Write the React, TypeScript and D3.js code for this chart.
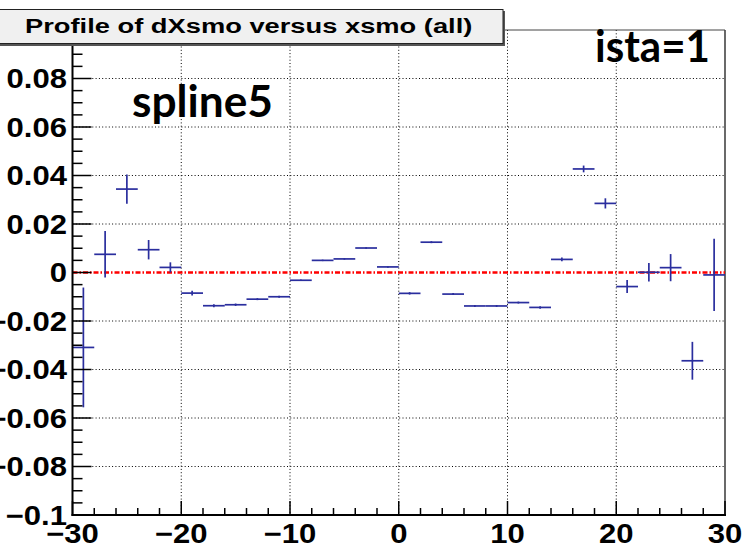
import React from "react";
import * as d3 from "d3";

const binCenters = [-29, -27, -25, -23, -21, -19, -17, -15, -13, -11, -9, -7, -5, -3, -1, 1, 3, 5, 7, 9, 11, 13, 15, 17, 19, 21, 23, 25, 27, 29];
const means = [-0.0309, 0.0075, 0.0344, 0.0094, 0.0021, -0.0085, -0.0137, -0.0133, -0.011, -0.01, -0.0032, 0.005, 0.0056, 0.0101, 0.0023, -0.0086, 0.0125, -0.0089, -0.0138, -0.0138, -0.0124, -0.0144, 0.0054, 0.0427, 0.0285, -0.0058, 0.0001, 0.002, -0.0364, -0.001];
const errors = [0.0247, 0.0096, 0.006, 0.004, 0.0021, 0.001, 0.0006, 0.0005, 0.0004, 0.0004, 0.0003, 0.0003, 0.0003, 0.0003, 0.0003, 0.0005, 0.0004, 0.0004, 0.0004, 0.0004, 0.0004, 0.0005, 0.0008, 0.0014, 0.0021, 0.0027, 0.0038, 0.0056, 0.0078, 0.0149];
const binHalfWidth = 1;
const xTicks = [-30, -20, -10, 0, 10, 20, 30];
const xMinorTicks = [-28, -26, -24, -22, -18, -16, -14, -12, -8, -6, -4, -2, 2, 4, 6, 8, 12, 14, 16, 18, 22, 24, 26, 28];
const yTicks = [-0.1, -0.08, -0.06, -0.04, -0.02, 0, 0.02, 0.04, 0.06, 0.08, 0.1];
const yLabelTicks = [-0.1, -0.08, -0.06, -0.04, -0.02, 0, 0.02, 0.04, 0.06, 0.08];
const yTickLabels = ["\u22120.1", "\u22120.08", "\u22120.06", "\u22120.04", "\u22120.02", "0", "0.02", "0.04", "0.06", "0.08"];
const yMinorStep = 0.005;
const xGrid = [-20, -10, 0, 10, 20];
const yGrid = [-0.08, -0.06, -0.04, -0.02, 0.02, 0.04, 0.06, 0.08];
const title = "Profile of dXsmo versus xsmo (all)";
const label1 = "spline5";
const label2 = "ista=1";

export default function App() {
  const W = 743, H = 549;
  const left = 72.5, right = 725, top = 30, bottom = 515;
  const x = d3.scaleLinear().domain([-30, 30]).range([left, right]);
  const y = d3.scaleLinear().domain([-0.1, 0.1]).range([bottom, top]);
  const yMinor = d3.range(-0.1, 0.1001, yMinorStep).filter((v) => Math.abs(Math.round(v / 0.02) * 0.02 - v) > 1e-6);
  const font = "'Liberation Sans', Arial, Helvetica, sans-serif";
  const sx = 1.3;
  const lsx = 1.15;
  const lfs = 27;
  const errColor = "#2a2e9e";

  return (
    <svg width={W} height={H} style={{ position: "absolute", left: 0, top: 0, background: "#fff" }}>
      <rect x={0} y={0} width={W} height={H} fill="#fff" />
      {/* grid */}
      {xGrid.map((v) => (
        <line key={"gx" + v} x1={x(v)} x2={x(v)} y1={top} y2={bottom} stroke="#000" strokeWidth={1} strokeDasharray="1 2.3" />
      ))}
      {yGrid.map((v) => (
        <line key={"gy" + v} x1={left} x2={right} y1={y(v)} y2={y(v)} stroke="#000" strokeWidth={1} strokeDasharray="1 2.3" />
      ))}
      {/* frame */}
      <line x1={left} x2={right} y1={top} y2={top} stroke="#444" strokeWidth={1} />
      <line x1={right} x2={right} y1={top} y2={bottom} stroke="#444" strokeWidth={1.6} />
      {/* zero line */}
      <line x1={left} x2={right} y1={y(0)} y2={y(0)} stroke="#ff0000" strokeWidth={2.4} strokeDasharray="5 2 1.5 2" />
      {/* error bars */}
      {binCenters.map((c, i) => (
        <g key={"p" + i} stroke={errColor} strokeWidth={1.7}>
          <line x1={x(c - binHalfWidth)} x2={x(c + binHalfWidth)} y1={y(means[i])} y2={y(means[i])} />
          <line x1={x(c)} x2={x(c)} y1={y(means[i] + errors[i])} y2={y(means[i] - errors[i])} />
        </g>
      ))}
      {/* axes */}
      <line x1={left} x2={left} y1={top} y2={bottom + 1} stroke="#000" strokeWidth={2} />
      <line x1={left - 1} x2={right + 1} y1={bottom} y2={bottom} stroke="#000" strokeWidth={2} />
      {xTicks.map((v) => (
        <line key={"xt" + v} x1={x(v)} x2={x(v)} y1={bottom} y2={bottom - 14} stroke="#000" strokeWidth={1.5} />
      ))}
      {xMinorTicks.map((v) => (
        <line key={"xm" + v} x1={x(v)} x2={x(v)} y1={bottom} y2={bottom - 7} stroke="#000" strokeWidth={1.5} />
      ))}
      {yTicks.map((v) => (
        <line key={"yt" + v} x1={left} x2={left + 19} y1={y(v)} y2={y(v)} stroke="#000" strokeWidth={1.5} />
      ))}
      {yMinor.map((v, i) => (
        <line key={"ym" + i} x1={left} x2={left + 10} y1={y(v)} y2={y(v)} stroke="#000" strokeWidth={1.5} />
      ))}
      {/* tick labels */}
      {yLabelTicks.map((v, i) => (
        <text key={"yl" + i} transform={`translate(${67},${y(v) + 9.7}) scale(${lsx},1)`} textAnchor="end" fontFamily={font} fontWeight="bold" fontSize={lfs} fill="#000">
          {yTickLabels[i]}
        </text>
      ))}
      {xTicks.map((v) => (
        <text key={"xl" + v} transform={`translate(${x(v)},${543}) scale(${lsx},1)`} textAnchor="middle" fontFamily={font} fontWeight="bold" fontSize={lfs} fill="#000">
          {v < 0 ? "\u2212" + Math.abs(v) : String(v)}
        </text>
      ))}
      {/* title box */}
      <rect x={-4} y={11} width={509} height={35} fill="#555" />
      <rect x={-4} y={9.5} width={507} height={34} fill="#f0f0f0" stroke="#222" strokeWidth={1} />
      <text transform={`translate(25,33) scale(${sx},1)`} fontFamily={font} fontWeight="bold" fontSize={21} fill="#000">
        {title}
      </text>
      {/* annotations */}
      <text x={132} y={117} fontFamily="Lato, 'Open Sans', sans-serif" fontWeight="bold" fontSize={43} textLength={141} lengthAdjust="spacingAndGlyphs" fill="#000">
        {label1}
      </text>
      <text x={595} y={62} fontFamily="Lato, 'Open Sans', sans-serif" fontWeight="bold" fontSize={43} textLength={115} lengthAdjust="spacingAndGlyphs" fill="#000">
        {label2}
      </text>
    </svg>
  );
}
